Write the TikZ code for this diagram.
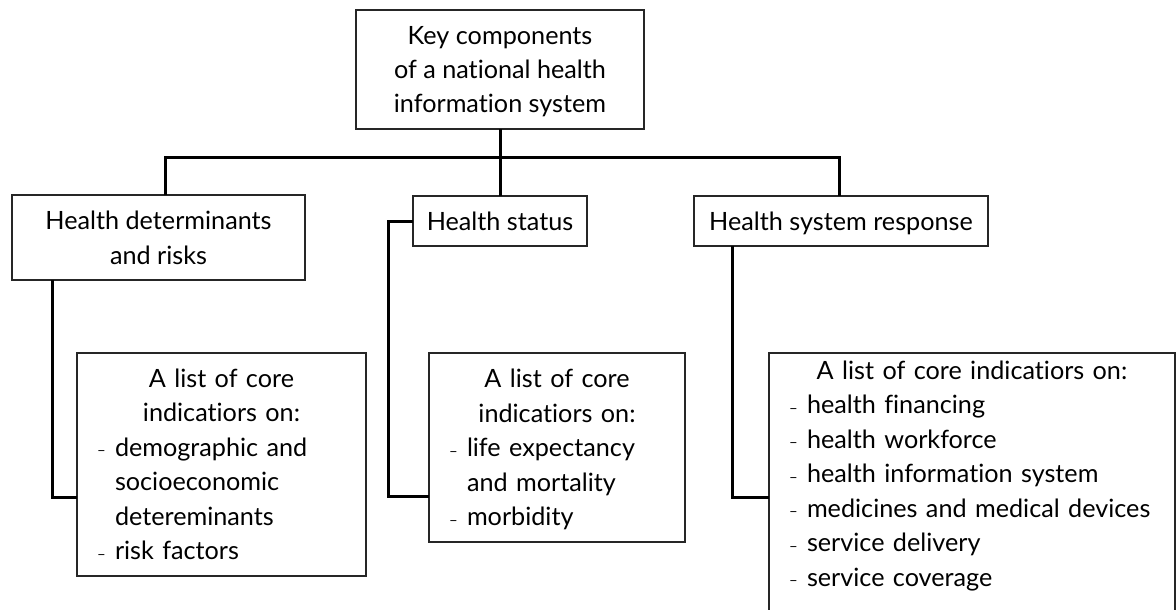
\documentclass[tikz,border=0pt]{standalone}
\usepackage{fontspec}
\setmainfont{Lato}[Ligatures=NoCommon]
\setlength\parindent{0pt}
\newcommand\sa{\rule[-8pt]{0pt}{34pt}}
\newcommand\sdeep{\rule[-40pt]{0pt}{1pt}}
\newcommand\hdr[1]{\makebox[\hsize][c]{#1}}
\newcommand\dsh{\makebox[17pt][l]{\hspace*{-1pt}\raisebox{0.5pt}{\fontsize{15}{15}\selectfont –}}}
\newcommand\itm[1]{\dsh\mbox{#1}}
\newcommand\cont[1]{\hspace*{17pt}\mbox{#1}}
\begin{document}
\begin{tikzpicture}[x=1pt,y=-1pt,
  box/.style={draw=black!85, line width=1.4pt, rectangle, inner xsep=8pt, inner ysep=0pt, outer sep=0pt, align=center, font=\fontsize{25.2}{34}\selectfont},
  listbox/.style={box, align=left, inner xsep=21pt, font=\fontsize{25.2}{34.5}\selectfont},
  conn/.style={line width=3pt, draw=black, line join=miter}]
\useasboundingbox (0,0) rectangle (1176,610);
\clip (0,0) rectangle (1176,610);
\fill[white] (0,0) rectangle (1176,610);

\node[box, minimum width=288, minimum height=119] (top) at (500,69.5)
  {\sa Key components\\ of a national health\\ information system\sa};
\node[box, minimum width=293, minimum height=85] (hd) at (158.5,237.5)
  {\sa Health determinants\\[1pt] and risks\sa};
\node[box, minimum width=174, minimum height=50] (hs) at (500,221)
  {\sa Health status\sa};
\node[box, minimum width=294, minimum height=50] (hsr) at (841,221)
  {\sa Health system response\sa};

\node[listbox, minimum width=289, minimum height=223, text width=247] (lbox) at (221.5,464.5)
  {\hdr{\sa A list of core}\\ \hdr{indicatiors on:}\\ \itm{demographic and}\\ \cont{socioeconomic}\\ \cont{detereminants}\\ \itm{risk factors}\sa};
\node[listbox, minimum width=256, minimum height=189, text width=214] (mbox) at (557,447.5)
  {\hdr{\sa A list of core}\\ \hdr{indicatiors on:}\\ \itm{life expectancy}\\ \cont{and mortality}\\ \itm{morbidity}\sa};
\node[listbox, minimum width=406, text width=364, anchor=north] (rbox) at (972,353)
  {\hdr{\sa A list of core indicatiors on:}\\ \itm{health financing}\\ \itm{health workforce}\\ \itm{health information system}\\ \itm{medicines and medical devices}\\ \itm{service delivery}\\ \itm{service coverage}\sdeep};

\coordinate (bus) at (500,157);
\coordinate (e1) at (52,497);
\coordinate (e2) at (388,496);
\coordinate (e3) at (732,497);

\draw[conn] (top.south) -- (hs.north);
\draw[conn] ([xshift=6.5pt]hd.north) |- ([xshift=-2pt]hsr.north |- bus) -- ([xshift=-2pt]hsr.north);
\draw[conn] (hd.south -| e1) -- (e1) -- (lbox.west |- e1);
\draw[conn] (hs.west) -| (e2) -- (mbox.west |- e2);
\draw[conn] (hsr.south -| e3) -- (e3) -- (rbox.west |- e3);
\end{tikzpicture}
\end{document}
